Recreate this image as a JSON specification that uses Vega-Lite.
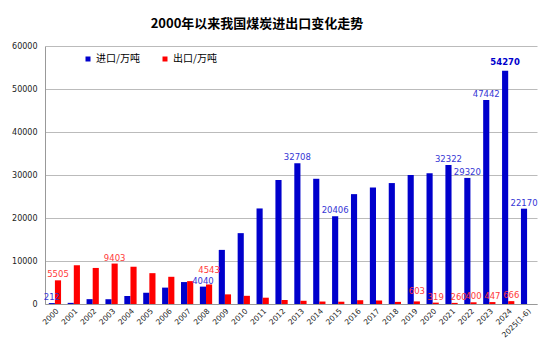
{
  "$schema": "https://vega.github.io/schema/vega-lite/v6.json",
  "width": 492,
  "height": 258,
  "autosize": {"type": "none"},
  "padding": {"left": 45, "top": 46, "right": 17, "bottom": 45},
  "background": "white",
  "title": {"text": "2000年以来我国煤炭进出口变化走势", "font": "Noto Sans CJK SC", "fontSize": 13, "fontWeight": "bold", "color": "#000000", "anchor": "middle", "dx": -34, "offset": 11},
  "data": {"values": [
    {"year": "2000", "type": "进口/万吨", "value": 212, "label": "212"},
    {"year": "2000", "type": "出口/万吨", "value": 5505, "label": "5505"},
    {"year": "2001", "type": "进口/万吨", "value": 266, "label": ""},
    {"year": "2001", "type": "出口/万吨", "value": 9012, "label": ""},
    {"year": "2002", "type": "进口/万吨", "value": 1126, "label": ""},
    {"year": "2002", "type": "出口/万吨", "value": 8384, "label": ""},
    {"year": "2003", "type": "进口/万吨", "value": 1110, "label": ""},
    {"year": "2003", "type": "出口/万吨", "value": 9403, "label": "9403"},
    {"year": "2004", "type": "进口/万吨", "value": 1861, "label": ""},
    {"year": "2004", "type": "出口/万吨", "value": 8666, "label": ""},
    {"year": "2005", "type": "进口/万吨", "value": 2617, "label": ""},
    {"year": "2005", "type": "出口/万吨", "value": 7172, "label": ""},
    {"year": "2006", "type": "进口/万吨", "value": 3811, "label": ""},
    {"year": "2006", "type": "出口/万吨", "value": 6327, "label": ""},
    {"year": "2007", "type": "进口/万吨", "value": 5102, "label": ""},
    {"year": "2007", "type": "出口/万吨", "value": 5319, "label": ""},
    {"year": "2008", "type": "进口/万吨", "value": 4040, "label": "4040"},
    {"year": "2008", "type": "出口/万吨", "value": 4543, "label": "4543"},
    {"year": "2009", "type": "进口/万吨", "value": 12584, "label": ""},
    {"year": "2009", "type": "出口/万吨", "value": 2240, "label": ""},
    {"year": "2010", "type": "进口/万吨", "value": 16478, "label": ""},
    {"year": "2010", "type": "出口/万吨", "value": 1903, "label": ""},
    {"year": "2011", "type": "进口/万吨", "value": 22220, "label": ""},
    {"year": "2011", "type": "出口/万吨", "value": 1466, "label": ""},
    {"year": "2012", "type": "进口/万吨", "value": 28841, "label": ""},
    {"year": "2012", "type": "出口/万吨", "value": 928, "label": ""},
    {"year": "2013", "type": "进口/万吨", "value": 32708, "label": "32708"},
    {"year": "2013", "type": "出口/万吨", "value": 751, "label": ""},
    {"year": "2014", "type": "进口/万吨", "value": 29122, "label": ""},
    {"year": "2014", "type": "出口/万吨", "value": 574, "label": ""},
    {"year": "2015", "type": "进口/万吨", "value": 20406, "label": "20406"},
    {"year": "2015", "type": "出口/万吨", "value": 533, "label": ""},
    {"year": "2016", "type": "进口/万吨", "value": 25551, "label": ""},
    {"year": "2016", "type": "出口/万吨", "value": 879, "label": ""},
    {"year": "2017", "type": "进口/万吨", "value": 27093, "label": ""},
    {"year": "2017", "type": "出口/万吨", "value": 817, "label": ""},
    {"year": "2018", "type": "进口/万吨", "value": 28123, "label": ""},
    {"year": "2018", "type": "出口/万吨", "value": 494, "label": ""},
    {"year": "2019", "type": "进口/万吨", "value": 29977, "label": ""},
    {"year": "2019", "type": "出口/万吨", "value": 603, "label": "603"},
    {"year": "2020", "type": "进口/万吨", "value": 30399, "label": ""},
    {"year": "2020", "type": "出口/万吨", "value": 319, "label": "319"},
    {"year": "2021", "type": "进口/万吨", "value": 32322, "label": "32322"},
    {"year": "2021", "type": "出口/万吨", "value": 260, "label": "260"},
    {"year": "2022", "type": "进口/万吨", "value": 29320, "label": "29320"},
    {"year": "2022", "type": "出口/万吨", "value": 400, "label": "400"},
    {"year": "2023", "type": "进口/万吨", "value": 47442, "label": "47442"},
    {"year": "2023", "type": "出口/万吨", "value": 447, "label": "447"},
    {"year": "2024", "type": "进口/万吨", "value": 54270, "label": "54270"},
    {"year": "2024", "type": "出口/万吨", "value": 666, "label": "666"},
    {"year": "2025(1-6)", "type": "进口/万吨", "value": 22170, "label": "22170"}
  ]},
  "encoding": {
    "x": {"field": "year", "type": "nominal", "sort": null,
      "scale": {"paddingInner": 0.35, "paddingOuter": 0.2},
      "axis": {"title": null, "labelAngle": -45, "labelFont": "DejaVu Sans", "labelFontSize": 7.5, "labelColor": "#222222", "ticks": false, "labelPadding": 3, "domainColor": "#999999", "grid": false}},
    "xOffset": {"field": "type", "type": "nominal", "sort": ["进口/万吨", "出口/万吨"], "scale": {"paddingInner": 0, "paddingOuter": 0}},
    "y": {"field": "value", "type": "quantitative",
      "scale": {"domain": [0, 60000], "nice": false},
      "axis": {"title": null, "values": [0, 10000, 20000, 30000, 40000, 50000, 60000], "format": "d", "labelFont": "DejaVu Sans", "labelFontSize": 8, "labelColor": "#222222", "ticks": false, "labelPadding": 8, "domain": true, "domainColor": "#999999", "gridColor": "#bbbbbb", "gridWidth": 1}}
  },
  "layer": [
    {
      "mark": {"type": "bar"},
      "encoding": {
        "color": {"field": "type", "type": "nominal",
          "scale": {"domain": ["进口/万吨", "出口/万吨"], "range": ["#0000cc", "#ff0000"]},
          "legend": {"title": null, "orient": "none", "legendX": 38, "legendY": 8, "direction": "horizontal", "symbolType": "square", "symbolSize": 25, "symbolStrokeWidth": 0, "labelFont": "Noto Sans CJK SC", "labelFontSize": 10, "labelColor": "#000000", "columnPadding": 20, "labelOffset": 3}}
      }
    },
    {
      "transform": [{"filter": "datum.label != '' && datum.type == '进口/万吨' && datum.value != 54270"}],
      "mark": {"type": "text", "baseline": "bottom", "dy": -1, "font": "DejaVu Sans", "fontSize": 8.5, "color": "#3535d5"},
      "encoding": {"text": {"field": "label"}}
    },
    {
      "transform": [{"filter": "datum.value == 54270"}],
      "mark": {"type": "text", "baseline": "bottom", "dy": -4, "font": "DejaVu Sans", "fontSize": 8.5, "fontWeight": "bold", "color": "#0000cc"},
      "encoding": {"text": {"field": "label"}}
    },
    {
      "transform": [{"filter": "datum.label != '' && datum.type == '出口/万吨' && datum.value != 4543 && datum.value != 603 && datum.value != 260"}],
      "mark": {"type": "text", "baseline": "bottom", "dy": -1, "font": "DejaVu Sans", "fontSize": 8.5, "color": "#ff3a3a"},
      "encoding": {"text": {"field": "label"}}
    },
    {
      "transform": [{"filter": "datum.value == 4543"}],
      "mark": {"type": "text", "baseline": "bottom", "dy": -9, "font": "DejaVu Sans", "fontSize": 8.5, "color": "#ff3a3a"},
      "encoding": {"text": {"field": "label"}}
    },
    {
      "transform": [{"filter": "datum.value == 603 && datum.type == '出口/万吨'"}],
      "mark": {"type": "text", "baseline": "bottom", "dy": -5, "font": "DejaVu Sans", "fontSize": 8.5, "color": "#ff3a3a"},
      "encoding": {"text": {"field": "label"}}
    },
    {
      "transform": [{"filter": "datum.value == 260 && datum.type == '出口/万吨'"}],
      "mark": {"type": "text", "baseline": "bottom", "dy": -1, "dx": 4, "font": "DejaVu Sans", "fontSize": 8.5, "color": "#ff3a3a"},
      "encoding": {"text": {"field": "label"}}
    }
  ],
  "config": {"view": {"stroke": null}}
}
